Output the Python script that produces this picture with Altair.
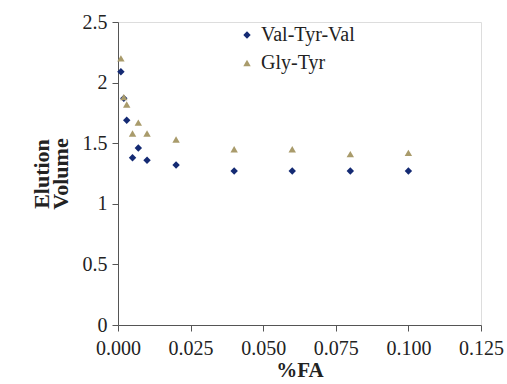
import altair as alt
import pandas as pd

fa = [0.001, 0.002, 0.003, 0.005, 0.007, 0.010, 0.020, 0.040, 0.060, 0.080, 0.100]
val_tyr_val = [2.09, 1.87, 1.69, 1.38, 1.46, 1.36, 1.32, 1.27, 1.27, 1.27, 1.27]
gly_tyr = [2.20, 1.88, 1.82, 1.58, 1.67, 1.58, 1.53, 1.45, 1.45, 1.41, 1.42]
series = ["Val-Tyr-Val", "Gly-Tyr"]

rows = []
for x, v in zip(fa, val_tyr_val):
    rows.append({"fa": x, "vol": v, "series": series[0]})
for x, v in zip(fa, gly_tyr):
    rows.append({"fa": x, "vol": v, "series": series[1]})
df = pd.DataFrame(rows)

font = "Liberation Serif, Times New Roman, serif"
leg = alt.Legend(title=None, orient="none", legendX=119, legendY=3,
                 labelFont=font, labelFontSize=20, labelColor="#222",
                 symbolSize=55, rowPadding=8, labelOffset=4)

chart = alt.Chart(df).mark_point(filled=True, opacity=1).encode(
    x=alt.X("fa:Q", title="%FA",
            scale=alt.Scale(domain=[0, 0.125], nice=False),
            axis=alt.Axis(values=[0, 0.025, 0.05, 0.075, 0.1, 0.125], format=".3f",
                          grid=False, domainColor="#555", tickColor="#555",
                          tickSize=6, labelPadding=7, labelFlush=False,
                          labelFont=font, labelFontSize=20, labelColor="#222",
                          titleFont=font, titleFontSize=21, titleFontWeight="bold",
                          titleColor="#222", titlePadding=1)),
    y=alt.Y("vol:Q", title=["Elution", "Volume"],
            scale=alt.Scale(domain=[0, 2.5], nice=False),
            axis=alt.Axis(values=[0, 0.5, 1, 1.5, 2, 2.5], format="~g",
                          grid=False, domainColor="#555", tickColor="#555",
                          tickSize=6, labelPadding=5, labelFlush=False,
                          labelFont=font, labelFontSize=20, labelColor="#222",
                          titleFont=font, titleFontSize=22, titleFontWeight="bold",
                          titleColor="#222", titlePadding=10, titleLineHeight=19)),
    shape=alt.Shape("series:N", sort=series,
                    scale=alt.Scale(domain=series, range=["diamond", "triangle-up"]),
                    legend=leg),
    color=alt.Color("series:N", sort=series,
                    scale=alt.Scale(domain=series, range=["#142a73", "#a99b6b"]),
                    legend=leg),
    size=alt.value(55),
).properties(
    width=363, height=303,
    padding={"left": 118, "top": 22, "right": 26, "bottom": 59},
    autosize=alt.AutoSizeParams(type="none"),
).configure_view(stroke=None).configure(background="white")

chart.save("out.html", embed_options={"renderer": "svg", "actions": False})
